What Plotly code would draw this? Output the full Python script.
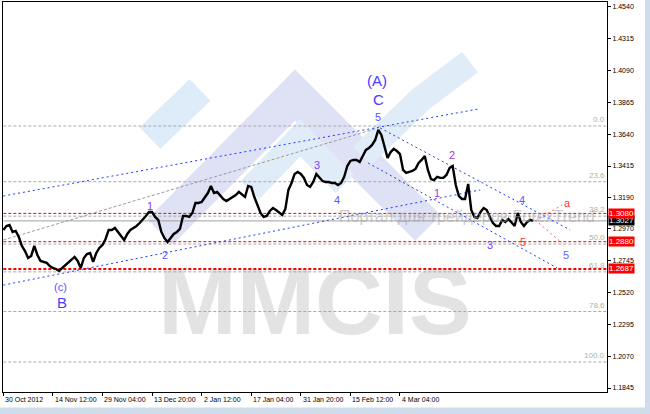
import plotly.graph_objects as go

# ---- Data ----

# H4 closes, one value per ~3 px column, 30 Oct 2012 .. 8 Mar 2013
close = [
    1.2963, 1.2991, 1.2998, 1.2949, 1.2956, 1.2913, 1.2850, 1.2814, 1.2765, 1.2779,
    1.2850, 1.2786, 1.2744, 1.2737, 1.2730, 1.2708, 1.2694, 1.2687, 1.2673, 1.2694,
    1.2715, 1.2737, 1.2758, 1.2772, 1.2744, 1.2694, 1.2765, 1.2793, 1.2800, 1.2737,
    1.2800, 1.2836, 1.2857, 1.2899, 1.2963, 1.2963, 1.2977, 1.2949, 1.2920, 1.2892,
    1.2935, 1.2963, 1.2977, 1.2991, 1.3012, 1.3041, 1.3062, 1.3090, 1.3090, 1.3055,
    1.3034, 1.2949, 1.2906, 1.2878, 1.2906, 1.2935, 1.2949, 1.2970, 1.3062, 1.3062,
    1.3055, 1.3083, 1.3154, 1.3154, 1.3161, 1.3189, 1.3224, 1.3274, 1.3224, 1.3232,
    1.3210, 1.3182, 1.3168, 1.3182, 1.3196, 1.3210, 1.3232, 1.3217, 1.3196, 1.3274,
    1.3267, 1.3196, 1.3140, 1.3083, 1.3055, 1.3062, 1.3097, 1.3118, 1.3104, 1.3083,
    1.3069, 1.3111, 1.3246, 1.3295, 1.3359, 1.3373, 1.3359, 1.3331, 1.3281, 1.3267,
    1.3302, 1.3359, 1.3331, 1.3309, 1.3302, 1.3302, 1.3295, 1.3295, 1.3281, 1.3295,
    1.3338, 1.3415, 1.3451, 1.3458, 1.3458, 1.3444, 1.3486, 1.3529, 1.3543, 1.3564,
    1.3599, 1.3670, 1.3635, 1.3543, 1.3472, 1.3514, 1.3536, 1.3521, 1.3500, 1.3387,
    1.3366, 1.3373, 1.3380, 1.3394, 1.3437, 1.3458, 1.3486, 1.3387, 1.3323, 1.3316,
    1.3338, 1.3331, 1.3331, 1.3352, 1.3401, 1.3415, 1.3281, 1.3203, 1.3182, 1.3182,
    1.3288, 1.3104, 1.3055, 1.3048, 1.3090, 1.3118, 1.3104, 1.3055, 1.3012, 1.2991,
    1.2991, 1.3034, 1.3019, 1.3041, 1.3012, 1.2991, 1.3083, 1.3019, 1.2991, 1.3019,
    1.3034, 1.3027,
]

date_ticks = [0, 16, 32, 48, 64, 80, 96, 112, 128]
date_labels = ["30 Oct 2012", "14 Nov 12:00", "29 Nov 04:00", "13 Dec 20:00", "2 Jan 12:00",
               "17 Jan 04:00", "31 Jan 20:00", "15 Feb 12:00", "4 Mar 04:00"]

price_ticks = [1.1845, 1.2070, 1.2295, 1.2520, 1.2745, 1.2970, 1.3190,
               1.3415, 1.3640, 1.3865, 1.4090, 1.4315, 1.4540]

levels = [1.3080, 1.2880, 1.2687]
bid = 1.3027

# Fibonacci grid
fib_top = 1.3698
fib_bottom = 1.2029
fib_ratios = [0.0, 23.6, 38.2, 50.0, 61.8, 78.6, 100.0]

# Trend / channel lines: (bar, price) pairs
blue_lines = [
    [(0, 1.3203), (153.2, 1.3818)],
    [(0, 1.2573), (153.9, 1.3246)],
    [(121.6, 1.3684), (182.9, 1.2963)],
    [(117.7, 1.3437), (178.7, 1.2694)],
]
gray_lines = [
    [(0, 1.2892), (121.0, 1.3684)],
]
pink_lines = [
    [(171.6, 1.3026), (180.3, 1.3140)],
    [(171.6, 1.3034), (180.3, 1.2870)],
]

# Wave marks: text, bar, price, colour, size
waves = [
    ("(A)", 120.6, 1.4017, "#4b3cff", 15),
    ("C", 121.0, 1.3882, "#4b3cff", 15),
    ("5", 121.0, 1.3762, "#5a50ff", 11),
    ("(c)", 18.4, 1.2559, "#5a50ff", 11),
    ("B", 19.0, 1.2453, "#4b3cff", 15),
    ("1", 47.4, 1.3132, "#9933ff", 11),
    ("2", 52.3, 1.2786, "#5a5aff", 11),
    ("3", 101.3, 1.3422, "#8040ff", 11),
    ("4", 107.7, 1.3175, "#5a5aff", 11),
    ("1", 140.0, 1.3224, "#b030e0", 11),
    ("2", 144.8, 1.3493, "#b030e0", 11),
    ("3", 157.1, 1.2857, "#8040ff", 11),
    ("4", 167.4, 1.3175, "#5a5aff", 11),
    ("5", 167.7, 1.2878, "#ff3030", 11),
    ("5", 181.6, 1.2786, "#5a6aff", 11),
    ("a", 181.9, 1.3154, "#ff3050", 11),
]

# faint object caption lying across the last weeks
caption = "Портал для трейдеров ForexTrend"
caption_bar, caption_price = 107.7, 1.3055

FONT = "Liberation Sans"
X_MAX = 194.8

# plot area in page pixels (used only to place the watermark)
PX0, PX1, PY0, PY1 = 3, 607, 2, 392


def to_paper(px, py):
    return (px - PX0) / (PX1 - PX0), 1 - (py - PY0) / (PY1 - PY0)


fig = go.Figure()

# ---- Watermark (MMCIS logo), drawn under everything ----
logo_strokes = [
    # pixel polyline, stroke width, colour
    ([(150, 138), (200, 90)], 30, "#deebf8"),
    ([(160, 232), (295, 95), (428, 228)], 36, "#dfe1f4"),
    ([(250, 190), (300, 138), (345, 184)], 26, "#e0edf9"),
    ([(362, 156), (420, 100), (470, 62)], 26, "#e0edf9"),
]
for pts, w, col in logo_strokes:
    path = "M " + " L ".join("{:.4f},{:.4f}".format(*to_paper(px, py)) for px, py in pts)
    fig.add_shape(type="path", path=path, xref="paper", yref="paper",
                  fillcolor="rgba(0,0,0,0)", line=dict(width=w, color=col), layer="below")
x0, y1 = to_paper(150, 255)
x1, y0 = to_paper(480, 330)
fig.add_shape(type="rect", xref="paper", yref="paper", x0=x0, x1=x1, y0=y0, y1=y1,
              line=dict(width=0), layer="below",
              label=dict(text="<b>MMCIS</b>", font=dict(family=FONT, size=94, color="#e3e3e3")))

# Fibonacci levels
fib_prices = [fib_top - r / 100 * (fib_top - fib_bottom) for r in fib_ratios]
for r, p in zip(fib_ratios, fib_prices):
    fig.add_trace(go.Scatter(x=[0, X_MAX], y=[p, p], mode="lines",
                             line=dict(color="#a9a9a9", width=1, dash="3px,2px"),
                             hoverinfo="skip"))
    fig.add_annotation(x=1, xref="paper", y=p, yref="y", text=f"{r:.1f}",
                       xanchor="right", yanchor="bottom", showarrow=False,
                       font=dict(family=FONT, size=8, color="#a3b8a3"))

# Bid line
fig.add_trace(go.Scatter(x=[0, X_MAX], y=[bid, bid], mode="lines",
                         line=dict(color="#a0a0a0", width=1), hoverinfo="skip"))

# Red horizontal levels
for i, p in enumerate(levels):
    fig.add_trace(go.Scatter(x=[0, X_MAX], y=[p, p], mode="lines",
                             line=dict(color="#ff0000", width=2 if i == 2 else 1, dash="3px,2px"),
                             hoverinfo="skip"))

for pts in gray_lines:
    fig.add_trace(go.Scatter(x=[a for a, _ in pts], y=[b for _, b in pts], mode="lines",
                             line=dict(color="#9a9a9a", width=1, dash="3px,2px"), hoverinfo="skip"))
for pts in blue_lines:
    fig.add_trace(go.Scatter(x=[a for a, _ in pts], y=[b for _, b in pts], mode="lines",
                             line=dict(color="#1f3cff", width=1, dash="2px,3px"), hoverinfo="skip"))
for pts in pink_lines:
    fig.add_trace(go.Scatter(x=[a for a, _ in pts], y=[b for _, b in pts], mode="lines",
                             line=dict(color="#ff5a8c", width=1, dash="2px,3px"), hoverinfo="skip"))

# Price
fig.add_trace(go.Scatter(x=list(range(len(close))), y=close, mode="lines",
                         line=dict(color="#000000", width=2.4)))

fig.add_annotation(x=caption_bar, y=caption_price, text=caption, showarrow=False,
                   xanchor="left", yanchor="middle",
                   font=dict(family=FONT, size=16, color="rgba(160,160,160,0.55)"))

for text, bx, py, col, size in waves:
    fig.add_annotation(x=bx, y=py, text=text, showarrow=False,
                       font=dict(family=FONT, size=size, color=col))

# Date labels, left-aligned on their ticks like the terminal does
for t, lab in zip(date_ticks, date_labels):
    fig.add_annotation(x=t, y=0, yref="paper", text=lab, showarrow=False,
                       xanchor="left", yanchor="top", xshift=0, yshift=-2,
                       font=dict(family=FONT, size=7, color="#000000"))

# Right-axis price boxes
fig.add_annotation(x=1, xref="paper", y=bid, text=f"{bid:.4f}", showarrow=False,
                   xanchor="left", xshift=1, bgcolor="#000000", borderpad=0,
                   font=dict(family=FONT, size=8, color="#ffffff"))
for p in levels:
    fig.add_annotation(x=1, xref="paper", y=p, text=f"{p:.4f}", showarrow=False,
                       xanchor="left", xshift=1, bgcolor="#ff0000", borderpad=0,
                       font=dict(family=FONT, size=8, color="#ffffff"))

# Window frame strips
fig.add_shape(type="rect", xref="paper", yref="paper", x0=1.063, x1=1.08, y0=-0.06, y1=1.01,
              fillcolor="#cfdcec", line=dict(width=0))
fig.add_shape(type="rect", xref="paper", yref="paper", x0=-0.01, x1=1.08, y0=-0.06, y1=-0.04,
              fillcolor="#cfdcec", line=dict(width=0))

fig.update_layout(
    width=650, height=414,
    margin=dict(l=3, r=43, t=2, b=22),
    paper_bgcolor="#ffffff", plot_bgcolor="#ffffff",
    showlegend=False,
    font=dict(family=FONT, size=7, color="#000000"),
    xaxis=dict(range=[-0.1, X_MAX], tickvals=date_ticks, showticklabels=False,
               showgrid=False, zeroline=False, showline=True, linecolor="#000000", mirror=True,
               ticks="outside", ticklen=3, tickcolor="#000000", automargin=False),
    yaxis=dict(range=[1.1817, 1.4575], side="right", tickvals=price_ticks,
               ticktext=[f"{v:.4f}" for v in price_ticks],
               showgrid=False, zeroline=False, showline=True, linecolor="#000000", mirror=True,
               ticks="outside", ticklen=3, tickcolor="#000000", automargin=False,
               tickfont=dict(family=FONT, size=7)),
)

fig.write_html("out.html", config={"displayModeBar": False},
               post_script="document.body.style.margin = '0';")
